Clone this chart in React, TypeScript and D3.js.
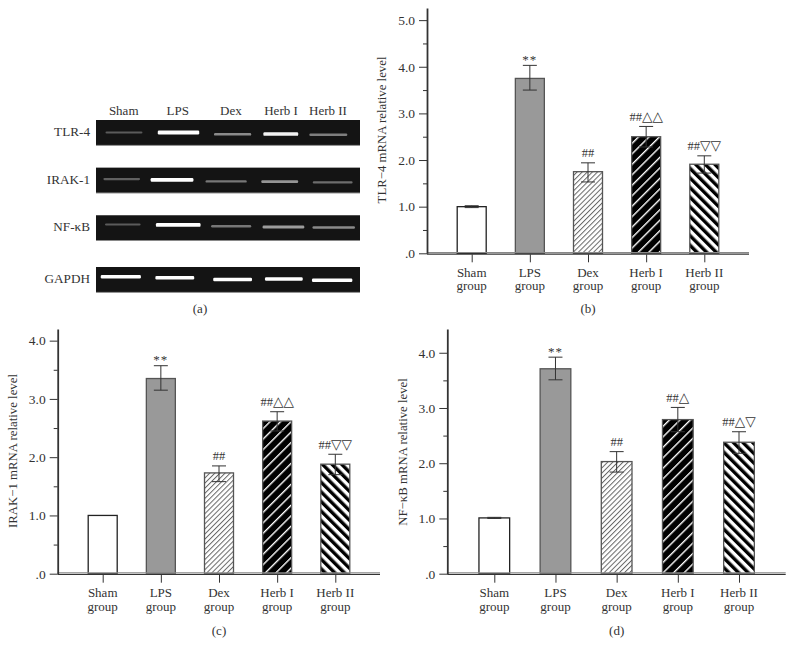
import * as d3 from "d3";
import { useEffect, useRef } from "react";

const categories = ["Sham", "LPS", "Dex", "Herb I", "Herb II"];
const rowNames = ["TLR-4", "IRAK-1", "NF-κB", "GAPDH"];

// bar chart readings
const tlrValues = [1.0, 3.75, 1.75, 2.5, 1.91];
const tlrUpper = [1.02, 4.03, 1.94, 2.72, 2.09];
const tlrLower = [0.98, 3.5, 1.53, 2.28, 1.72];
const tlrNotes = ["", "**", "##", "##△△", "##▽▽"];

const irakValues = [1.0, 3.35, 1.73, 2.62, 1.88];
const irakUpper = [1.0, 3.57, 1.85, 2.78, 2.05];
const irakLower = [1.0, 3.15, 1.58, 2.45, 1.7];
const irakNotes = ["", "**", "##", "##△△", "##▽▽"];

const nfValues = [1.01, 3.71, 2.03, 2.79, 2.38];
const nfUpper = [1.02, 3.92, 2.21, 3.01, 2.57];
const nfLower = [1.0, 3.51, 1.84, 2.57, 2.18];
const nfNotes = ["", "**", "##", "##△", "##△▽"];

// gel readings: band extent as fraction of gel width, height as fraction of gel row, brightness
const gelRowAt = [0, 0.324, 0.648, 1];
const gelFrom = [
  [0.036, 0.234, 0.447, 0.634, 0.808],
  [0.028, 0.207, 0.415, 0.626, 0.821],
  [0.034, 0.227, 0.436, 0.631, 0.82],
  [0.018, 0.225, 0.444, 0.64, 0.818],
];
const gelTo = [
  [0.176, 0.391, 0.588, 0.766, 0.952],
  [0.167, 0.369, 0.571, 0.766, 0.972],
  [0.169, 0.396, 0.588, 0.789, 0.981],
  [0.17, 0.372, 0.591, 0.783, 0.971],
];
const gelLevel = [
  [0.49, 0.49, 0.56, 0.55, 0.58],
  [0.45, 0.48, 0.54, 0.55, 0.58],
  [0.36, 0.38, 0.43, 0.46, 0.48],
  [0.38, 0.42, 0.49, 0.47, 0.52],
];
const gelGlow = [
  [0.3, 1, 0.5, 0.95, 0.45],
  [0.33, 1, 0.42, 0.55, 0.38],
  [0.3, 1, 0.42, 0.58, 0.5],
  [1, 1, 1, 1, 1],
];

const serif = "'Liberation Serif', serif";
const ink = "#333";
const fills = ["#fff", "#999", "url(#hatchDex)", "url(#hatchOne)", "url(#hatchTwo)"];

type PanelProps = {
  values: number[];
  upper: number[];
  lower: number[];
  notes: string[];
  top: number;
  ticks: number[];
  minor: number[];
  title: string;
  tag: string;
  axisX: number;
  endX: number;
  y0: number;
  yTop: number;
  firstX: number;
  lastX: number;
  barW: number;
  titleX: number;
  titleY: number;
  tagY: number;
};

function BarPanel(p: PanelProps) {
  const axisRef = useRef<SVGGElement>(null);
  const x = d3.scalePoint<string>().domain(categories).range([p.firstX, p.lastX]);
  const y = d3.scaleLinear().domain([0, p.top]).range([p.y0, p.yTop]);

  useEffect(() => {
    if (!axisRef.current) return;
    const g = d3.select(axisRef.current);
    g.selectAll("*").remove();
    const fmt = (d: d3.NumberValue) => (+d === 0 ? ".0" : d3.format(".1f")(+d));

    const left = g.append("g").attr("transform", `translate(${p.axisX},0)`);
    left.call(d3.axisLeft(y).tickValues(p.ticks).tickFormat(fmt).tickSize(8).tickSizeOuter(0).tickPadding(4));
    left.selectAll("path").attr("stroke", ink).attr("stroke-width", 1.8);
    left.selectAll("line").attr("stroke", ink).attr("stroke-width", 1);
    left.selectAll("text").attr("font-family", serif).attr("font-size", 13.5).attr("fill", ink);

    const small = g.append("g").attr("transform", `translate(${p.axisX},0)`);
    small.call(d3.axisLeft(y).tickValues(p.minor).tickFormat(() => "").tickSize(4));
    small.select("path").remove();
    small.selectAll("line").attr("stroke", ink).attr("stroke-width", 1);

    const bottom = g.append("g").attr("transform", `translate(0,${p.y0 + 1})`);
    bottom.call(d3.axisBottom(x).tickSize(8).tickSizeOuter(0).tickFormat(() => ""));
    bottom.selectAll("line").attr("stroke", ink).attr("stroke-width", 1);
    bottom.select("path").remove();
  }, []);

  return (
    <g>
      {categories.map((c, i) => {
        const cx = x(c) ?? 0;
        return (
          <rect
            key={c}
            x={cx - p.barW / 2}
            y={y(p.values[i])}
            width={p.barW}
            height={p.y0 - y(p.values[i])}
            fill={fills[i]}
            stroke={i === 0 ? "#222" : "#555"}
            strokeWidth={1.3}
          />
        );
      })}
      <line x1={p.axisX} x2={p.endX} y1={p.y0 - 0.8} y2={p.y0 - 0.8} stroke="#888" strokeWidth={1.2} />
      <line x1={p.axisX} x2={p.endX} y1={p.y0 + 0.8} y2={p.y0 + 0.8} stroke={ink} strokeWidth={1.2} />
      <g ref={axisRef} />
      {categories.map((c, i) => {
        const cx = x(c) ?? 0;
        const note = p.notes[i];
        const stars = note === "**";
        return (
          <g key={c}>
            {p.upper[i] !== p.lower[i] && (
              <g stroke="#333" strokeWidth={1}>
                <line x1={cx} x2={cx} y1={y(p.upper[i])} y2={y(p.lower[i])} />
                <line x1={cx - 7} x2={cx + 7} y1={y(p.upper[i])} y2={y(p.upper[i])} />
                <line x1={cx - 7} x2={cx + 7} y1={y(p.lower[i])} y2={y(p.lower[i])} />
              </g>
            )}
            {note && (
              <text
                x={cx}
                y={y(p.upper[i]) - (stars ? 1.5 : 5.5)}
                textAnchor="middle"
                fontFamily={serif}
                fontSize={stars ? 13 : 12.5}
                letterSpacing={stars ? 1 : 0}
                fill={ink}
              >
                {[...note].map((ch, k) =>
                  ch === "△" || ch === "▽" ? (
                    <tspan key={k} fontFamily="'DejaVu Sans'" fontSize={13.6}>
                      {ch}
                    </tspan>
                  ) : (
                    <tspan key={k}>{ch}</tspan>
                  ),
                )}
              </text>
            )}
            <text x={cx} y={p.y0 + 23.5} textAnchor="middle" fontFamily={serif} fontSize={13} fill={ink}>
              {c}
            </text>
            <text x={cx} y={p.y0 + 37} textAnchor="middle" fontFamily={serif} fontSize={13} fill={ink}>
              group
            </text>
          </g>
        );
      })}
      <text
        transform={`translate(${p.titleX},${p.titleY}) rotate(-90)`}
        textAnchor="middle"
        fontFamily={serif}
        fontSize={12.8}
        fill={ink}
      >
        {p.title}
      </text>
      <text x={(p.firstX + p.lastX) / 2} y={p.tagY} textAnchor="middle" fontFamily={serif} fontSize={13} fill={ink}>
        {p.tag}
      </text>
    </g>
  );
}

function GelPanel() {
  const x = d3.scaleLinear().domain([0, 1]).range([96, 360]);
  const rows = d3.scaleLinear().domain([0, 1]).range([120, 267]);
  const laneLabels = d3.scalePoint<string>().domain(categories).range([123.7, 328]);
  const labelOffset = [0, 2.9, 5.1, 4.1, 0];

  return (
    <g>
      {categories.map((c, i) => (
        <text
          key={c}
          x={(laneLabels(c) ?? 0) + labelOffset[i]}
          y={115}
          textAnchor="middle"
          fontFamily={serif}
          fontSize={13}
          fill={ink}
        >
          {c}
        </text>
      ))}
      {rowNames.map((name, r) => {
        const top = rows(gelRowAt[r]);
        const h = 25.5;
        const band = d3.scaleLinear().domain([0, 1]).range([top, top + h]);
        return (
          <g key={name}>
            <text x={90} y={top + 16} textAnchor="end" fontFamily={serif} fontSize={13.2} fill={ink}>
              {name}
            </text>
            <rect x={96} y={top} width={264} height={h} fill="#141414" />
            <rect x={96} y={top + h - 0.6} width={264} height={0.8} fill="#999" />
            <g filter="url(#gelBlur)">
              {categories.map((c, i) => {
                const glow = gelGlow[r][i];
                const thick = r === 3 ? 3.6 : 1.4 + glow * 2.4;
                return (
                  <rect
                    key={c}
                    x={x(gelFrom[r][i])}
                    width={x(gelTo[r][i]) - x(gelFrom[r][i])}
                    y={band(gelLevel[r][i]) - thick / 2}
                    height={thick}
                    rx={1.2}
                    fill="#fff"
                    opacity={glow}
                  />
                );
              })}
            </g>
          </g>
        );
      })}
      <text x={200} y={313} textAnchor="middle" fontFamily={serif} fontSize={13} fill={ink}>
        (a)
      </text>
    </g>
  );
}

export default function App() {
  return (
    <svg
      width={794}
      height={657}
      viewBox="0 0 794 657"
      style={{ position: "absolute", left: 0, top: 0, background: "#fff" }}
    >
      <defs>
        <filter id="gelBlur" x="-10%" y="-100%" width="120%" height="300%">
          <feGaussianBlur stdDeviation="0.6" />
        </filter>
        <pattern id="hatchDex" width={3.6} height={3.6} patternUnits="userSpaceOnUse" patternTransform="rotate(45)">
          <rect width={3.6} height={3.6} fill="#fff" />
          <rect width={1} height={3.6} fill="#666" />
        </pattern>
        <pattern id="hatchOne" width={7.4} height={7.4} patternUnits="userSpaceOnUse" patternTransform="rotate(45)">
          <rect width={7.4} height={7.4} fill="#000" />
          <rect width={1.4} height={7.4} fill="#fff" />
        </pattern>
        <pattern id="hatchTwo" width={6.8} height={6.8} patternUnits="userSpaceOnUse" patternTransform="rotate(-45)">
          <rect width={6.8} height={6.8} fill="#fff" />
          <rect width={3.4} height={6.8} fill="#000" />
        </pattern>
      </defs>
      <GelPanel />
      <BarPanel
        values={tlrValues}
        upper={tlrUpper}
        lower={tlrLower}
        notes={tlrNotes}
        top={5.26}
        ticks={[0, 1, 2, 3, 4, 5]}
        minor={[0.5, 1.5, 2.5, 3.5, 4.5]}
        title="TLR−4 mRNA relative level"
        tag="(b)"
        axisX={427}
        endX={749}
        y0={253.3}
        yTop={8}
        firstX={471.7}
        lastX={704.3}
        barW={29}
        titleX={386}
        titleY={130}
        tagY={313}
      />
      <BarPanel
        values={irakValues}
        upper={irakUpper}
        lower={irakLower}
        notes={irakNotes}
        top={4.2}
        ticks={[0, 1, 2, 3, 4]}
        minor={[0.5, 1.5, 2.5, 3.5]}
        title="IRAK−1 mRNA relative level"
        tag="(c)"
        axisX={57.7}
        endX={380}
        y0={573.7}
        yTop={329}
        firstX={102.7}
        lastX={335.3}
        barW={29}
        titleX={17}
        titleY={451}
        tagY={635}
      />
      <BarPanel
        values={nfValues}
        upper={nfUpper}
        lower={nfLower}
        notes={nfNotes}
        top={4.43}
        ticks={[0, 1, 2, 3, 4]}
        minor={[0.5, 1.5, 2.5, 3.5]}
        title="NF−κB mRNA relative level"
        tag="(d)"
        axisX={447.3}
        endX={785.7}
        y0={573.7}
        yTop={329}
        firstX={494.3}
        lastX={739}
        barW={30.7}
        titleX={407}
        titleY={452}
        tagY={635}
      />
    </svg>
  );
}
